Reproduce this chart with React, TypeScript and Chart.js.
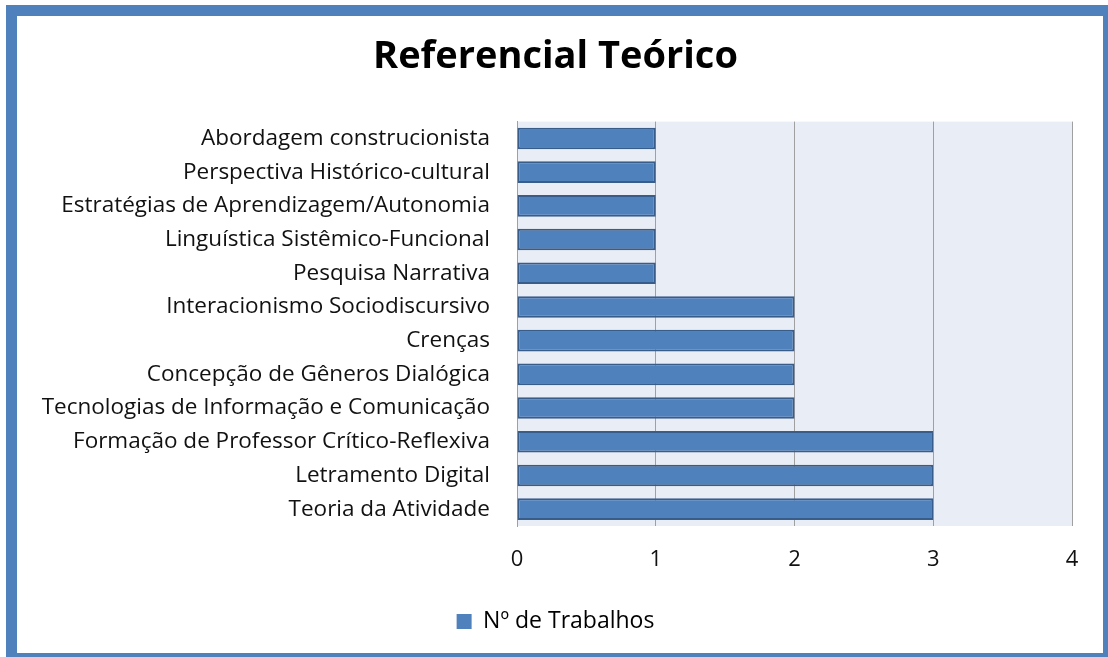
import React, { useEffect, useRef } from "react";
import { Chart, registerables } from "chart.js";

Chart.register(...registerables);

const categories = [
  "Abordagem construcionista",
  "Perspectiva Histórico-cultural",
  "Estratégias de Aprendizagem/Autonomia",
  "Linguística Sistêmico-Funcional",
  "Pesquisa Narrativa",
  "Interacionismo Sociodiscursivo",
  "Crenças",
  "Concepção de Gêneros Dialógica",
  "Tecnologias de Informação e Comunicação",
  "Formação de Professor Crítico-Reflexiva",
  "Letramento Digital",
  "Teoria da Atividade",
];
const trabalhos = [1, 1, 1, 1, 1, 2, 2, 2, 2, 3, 3, 3];
const seriesName = "Nº de Trabalhos";
const chartTitle = "Referencial Teórico";
const xMin = 0;
const xMax = 4;

const FONT = "'Open Sans', Lato, sans-serif";

const plotBg = {
  id: "plotBg",
  beforeDraw(chart: any) {
    const { ctx, chartArea } = chart;
    if (!chartArea) return;
    ctx.save();
    ctx.fillStyle = "#E9EDF5";
    ctx.fillRect(chartArea.left, chartArea.top, chartArea.right - chartArea.left, chartArea.bottom - chartArea.top);
    ctx.restore();
  },
};

export default function App() {
  const ref = useRef<HTMLCanvasElement | null>(null);
  useEffect(() => {
    if (!ref.current) return;
    const chart = new Chart(ref.current, {
      type: "bar",
      data: {
        labels: categories,
        datasets: [
          {
            label: seriesName,
            data: trabalhos,
            backgroundColor: "#4F81BD",
            borderColor: "#385D8A",
            borderWidth: 2,
            borderSkipped: false,
            barPercentage: 0.64,
            categoryPercentage: 1,
          },
        ],
      },
      options: {
        indexAxis: "y",
        responsive: false,
        animation: false,
        layout: { padding: { left: 22, right: 31, top: 0, bottom: 10 } },
        scales: {
          x: {
            min: xMin,
            max: xMax,
            ticks: { stepSize: 1, padding: 21, color: "#111", font: { family: FONT, size: 22 } },
            grid: { color: "#A0A0A0", lineWidth: 1, drawTicks: false },
            border: { display: false },
            afterFit: (s: any) => {
              s.height = 74;
            },
          },
          y: {
            ticks: { padding: 27, color: "#111", font: { family: FONT, size: 22.5 } },
            grid: { display: false, drawTicks: false },
            border: { display: true, color: "#A0A0A0" },
            afterFit: (s: any) => {
              s.width = 478;
            },
          },
        },
        plugins: {
          title: {
            display: true,
            text: chartTitle,
            color: "#000",
            font: { family: FONT, size: 38, weight: "bold" },
            padding: { top: 18, bottom: 42 },
          },
          legend: {
            display: true,
            position: "bottom",
            labels: {
              color: "#111",
              font: { family: FONT, size: 23 },
              boxWidth: 15,
              boxHeight: 15,
              generateLabels: () => [
                {
                  text: seriesName,
                  fillStyle: "#4F81BD",
                  strokeStyle: "#4F81BD",
                  lineWidth: 0,
                  hidden: false,
                  datasetIndex: 0,
                },
              ],
            },
          },
          tooltip: { enabled: false },
        },
      },
      plugins: [plotBg],
    });
    return () => chart.destroy();
  }, []);

  return (
    <div style={{ position: "fixed", left: 0, top: 0, width: 1108, height: 657, overflow: "hidden", background: "#fff" }}>
      <div
        style={{
          position: "absolute",
          left: 6,
          top: 5,
          width: 1120,
          height: 670,
          boxSizing: "border-box",
          border: "11px solid #4F81BD",
          background: "#fff",
        }}
      />
      <div style={{ position: "absolute", left: 17, top: 16, width: 1086, height: 637, background: "#fff" }}>
        <canvas ref={ref} width={1086} height={637} />
      </div>
      <div style={{ position: "absolute", left: 1103, top: 5, width: 10, height: 660, background: "#4F81BD" }} />
      <div style={{ position: "absolute", left: 6, top: 653, width: 1110, height: 10, background: "#4F81BD" }} />
    </div>
  );
}
